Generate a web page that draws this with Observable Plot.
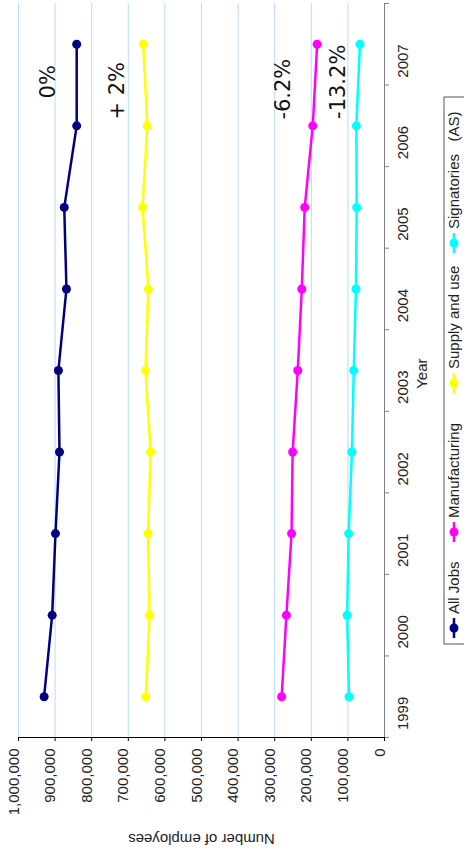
<!DOCTYPE html>
<html><head><meta charset="utf-8">
<script src="https://cdn.jsdelivr.net/npm/d3@7"></script>
<script src="https://cdn.jsdelivr.net/npm/@observablehq/plot@0.6"></script>
<style>html,body{margin:0;padding:0;background:#fff;} svg{display:block}</style>
</head><body><div id="chart"></div>
<script>
const years = [1999, 2000, 2001, 2002, 2003, 2004, 2005, 2006, 2007];
const allJobs = [930000, 908000, 899000, 888000, 891000, 869000, 875000, 841000, 841000];
const manufacturing = [281000, 268000, 254000, 251000, 237000, 226000, 218000, 196000, 184000];
const supplyUse = [652000, 642000, 646000, 639000, 653000, 645000, 661000, 648000, 659000];
const signatories = [97000, 102000, 98000, 89000, 84000, 78000, 76000, 77000, 67000];
const seriesNames = ["All Jobs", "Manufacturing", "Supply and use", "Signatories   (AS)"];
const seriesColors = ["#000080", "#ff00ff", "#ffff00", "#00ffff"];
const valueTicks = [0, 100000, 200000, 300000, 400000, 500000, 600000, 700000, 800000, 900000, 1000000];
const yearBounds = [1998.5, 1999.5, 2000.5, 2001.5, 2002.5, 2003.5, 2004.5, 2005.5, 2006.5, 2007.5];
const noteLabels = ["0%", "+ 2%", "-6.2%", "-13.2%"];
const noteValues = [920000, 731000, 277000, 126000];
const noteYears = [2006.54, 2006.43, 2006.45, 2006.54];

const seriesValues = [allJobs, manufacturing, supplyUse, signatories];
const rows = seriesNames.flatMap((s, i) => years.map((y, j) => ({series: s, year: y, value: seriesValues[i][j]})));
const fmt = d3.format(",");
const font = "'Liberation Sans', Arial, sans-serif";

const plot = Plot.plot({
  width: 464, height: 850,
  marginLeft: 18, marginRight: 80, marginTop: 3, marginBottom: 113,
  style: {fontFamily: font, fontSize: "15px", background: "#fff", color: "#222", overflow: "visible"},
  x: {domain: [0, 1000000], reverse: true, axis: null},
  y: {domain: [1998.5, 2007.5], axis: null},
  color: {domain: seriesNames, range: seriesColors},
  marks: [
    Plot.ruleX(valueTicks.filter(v => v > 0), {stroke: "#b8dbff", strokeWidth: 1}),
    Plot.ruleY([1998.5], {stroke: "#000"}),
    Plot.ruleX([0], {stroke: "#808080"}),
    Plot.axisX(valueTicks, {anchor: "bottom", tickSize: 4, fill: "none", stroke: "#000", label: null}),
    Plot.axisY(yearBounds, {anchor: "right", tickSize: 4, fill: "none", stroke: "#808080", label: null}),
    Plot.text(valueTicks, {x: d => d, frameAnchor: "bottom", rotate: -90, textAnchor: "end", dy: 11, text: d => fmt(d), fill: "#222"}),
    Plot.text(years, {y: d => d, frameAnchor: "right", rotate: -90, dx: 19, text: d => String(d), fill: "#222"}),
    Plot.text(["Year"], {frameAnchor: "right", rotate: -90, dx: 38, dy: -12, text: d => d, fill: "#222"}),
    Plot.text(["Number of employees"], {frameAnchor: "bottom", rotate: 180, dy: 96, text: d => d, fill: "#222"}),
    Plot.line(rows, {x: "value", y: "year", z: "series", stroke: "series", strokeWidth: 2.5}),
    Plot.dot(rows, {x: "value", y: "year", fill: "series", r: 4.5}),
    Plot.text(noteLabels, {x: (d, i) => noteValues[i], y: (d, i) => noteYears[i], text: d => d, rotate: -90, fontSize: 21, fontFamily: "'DejaVu Sans', Verdana, sans-serif", fill: "#111"})
  ]
});
document.getElementById("chart").appendChild(plot);

// legend (rotated like the chart)
const svg = d3.select(plot);
const lg = svg.append("g").attr("font-family", font).attr("font-size", 15).attr("fill", "#222").attr("text-anchor", "start");
lg.append("rect").attr("x", 444).attr("y", 97).attr("width", 40).attr("height", 547)
  .attr("fill", "none").attr("stroke", "#555");
const cx = 454;
const legendCenters = [628, 532, 383, 243];
seriesNames.forEach((name, i) => {
  const c = legendCenters[i];
  const g = lg.append("g");
  g.append("line").attr("x1", cx).attr("x2", cx).attr("y1", c + 10).attr("y2", c - 10)
    .attr("stroke", seriesColors[i]).attr("stroke-width", 2.5);
  g.append("circle").attr("cx", cx).attr("cy", c).attr("r", 4.5).attr("fill", seriesColors[i]);
  g.append("text").attr("transform", `translate(${cx},${c - 14}) rotate(-90)`)
    .attr("text-anchor", "start").attr("dy", "0.35em").style("white-space", "pre").text(name);
});
</script>
</body></html>
